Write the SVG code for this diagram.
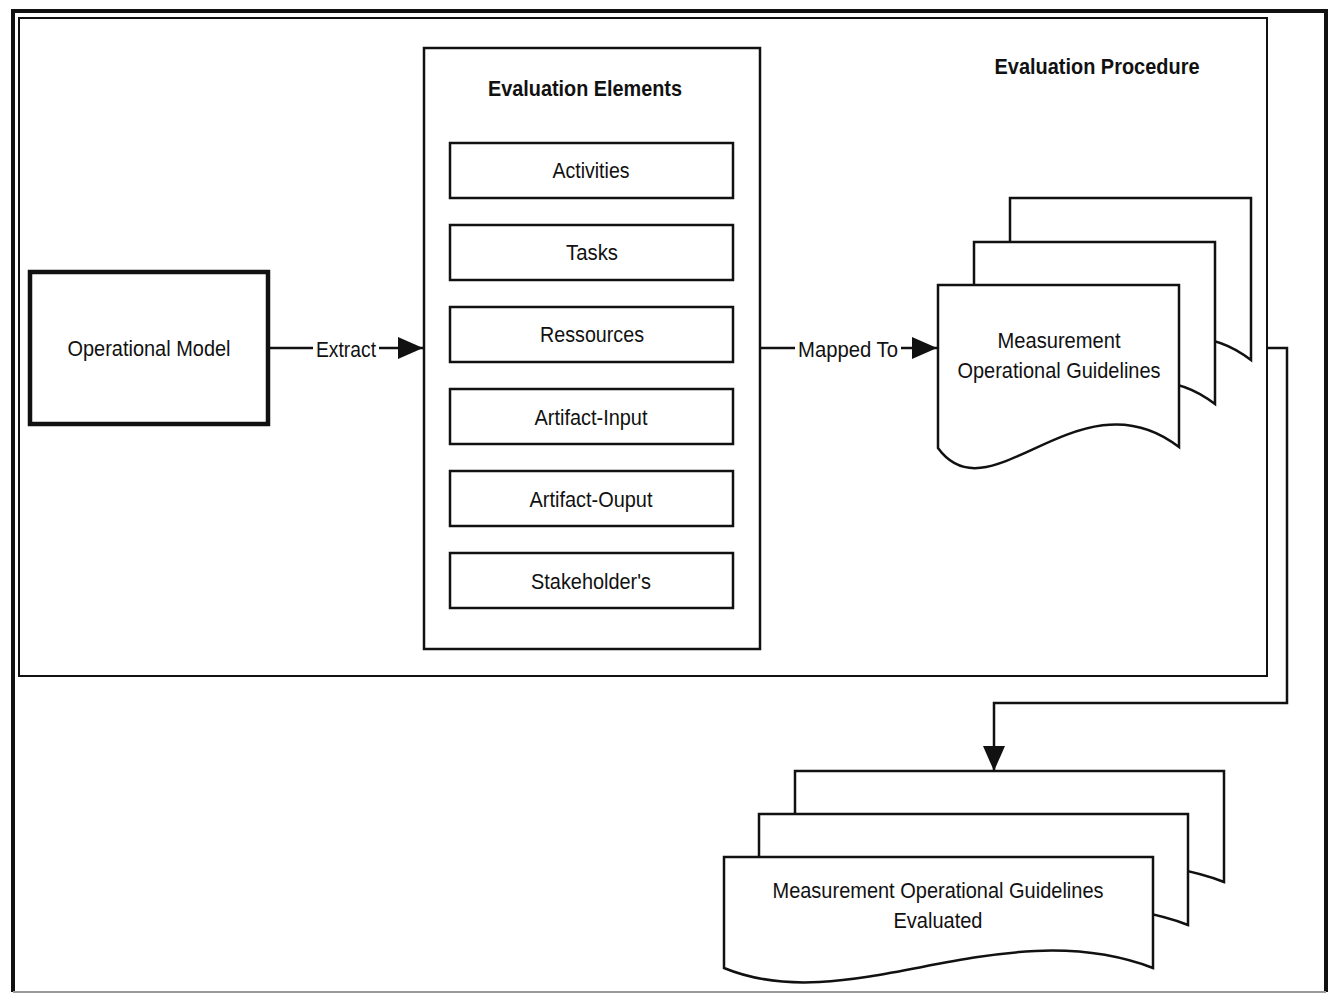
<svg xmlns="http://www.w3.org/2000/svg" width="1332" height="994" viewBox="0 0 1332 994">
  <style>
    .lbl { font-family: "Liberation Sans", Arial, sans-serif; font-size: 22.5px; fill: #111; text-anchor: middle; }
    .ttl { font-family: "Liberation Sans", Arial, sans-serif; font-size: 22.5px; font-weight: bold; fill: #111; text-anchor: middle; }
    .box { fill: #fff; stroke: #111; stroke-width: 2.5; }
    .doc { fill: #fff; stroke: #111; stroke-width: 2.5; stroke-linejoin: miter; }
    .wire { fill: none; stroke: #111; stroke-width: 2.5; }
  </style>
  <defs>
    <marker id="arrow" markerUnits="userSpaceOnUse" markerWidth="26" markerHeight="22" refX="25" refY="11" orient="auto">
      <path d="M0,0 L25,11 L0,22 Z" fill="#111"/>
    </marker>
    <!-- document sheet used by the guideline stack -->
    <path id="sheetA" d="M938,285 H1179 V447 C1080,370 990,520 938,448 Z"/>
    <!-- wide document sheet used by the evaluated stack -->
    <path id="sheetB" d="M724,857 H1153 V968 C1000,910 850,1020 724,968 Z"/>
  </defs>

  <rect width="1332" height="994" fill="#fff"/>

  <!-- page frame -->
  <g id="frame">
    <path d="M13,992 V11 H1326 V992" fill="none" stroke="#111" stroke-width="4"/>
    <line x1="13" y1="992" x2="1326" y2="992" stroke="#9a9a9a" stroke-width="2"/>
  </g>

  <!-- evaluation procedure region -->
  <g id="evaluation-procedure">
    <rect x="19" y="18" width="1248" height="658" fill="none" stroke="#111" stroke-width="2"/>
    <text class="ttl" x="1097" y="74" textLength="205" lengthAdjust="spacingAndGlyphs">Evaluation Procedure</text>
  </g>

  <!-- connectors -->
  <g id="connectors">
    <line class="wire" x1="268" y1="348" x2="423" y2="348" marker-end="url(#arrow)"/>
    <rect x="313" y="334" width="66" height="28" fill="#fff"/>
    <text class="lbl" x="346" y="357" textLength="60" lengthAdjust="spacingAndGlyphs">Extract</text>

    <line class="wire" x1="760" y1="348" x2="937" y2="348" marker-end="url(#arrow)"/>
    <rect x="795" y="334" width="106" height="28" fill="#fff"/>
    <text class="lbl" x="848" y="357" textLength="100" lengthAdjust="spacingAndGlyphs">Mapped To</text>

    <path class="wire" d="M1267,348 H1287 V703 H994 V771" marker-end="url(#arrow)"/>
  </g>

  <!-- operational model -->
  <g id="operational-model">
    <rect x="30" y="272" width="238" height="152" fill="#fff" stroke="#111" stroke-width="4.5"/>
    <text class="lbl" x="149" y="356" textLength="163" lengthAdjust="spacingAndGlyphs">Operational Model</text>
  </g>

  <!-- evaluation elements -->
  <g id="evaluation-elements">
    <rect class="box" x="424" y="48" width="336" height="601"/>
    <text class="ttl" x="585" y="96" textLength="194" lengthAdjust="spacingAndGlyphs">Evaluation Elements</text>
  </g>
  <g id="activities">
    <rect class="box" x="450" y="143" width="283" height="55"/>
    <text class="lbl" x="591" y="178" textLength="77" lengthAdjust="spacingAndGlyphs">Activities</text>
  </g>
  <g id="tasks">
    <rect class="box" x="450" y="225" width="283" height="55"/>
    <text class="lbl" x="592" y="260" textLength="52" lengthAdjust="spacingAndGlyphs">Tasks</text>
  </g>
  <g id="ressources">
    <rect class="box" x="450" y="307" width="283" height="55"/>
    <text class="lbl" x="592" y="342" textLength="104" lengthAdjust="spacingAndGlyphs">Ressources</text>
  </g>
  <g id="artifact-input">
    <rect class="box" x="450" y="389" width="283" height="55"/>
    <text class="lbl" x="591" y="425" textLength="113" lengthAdjust="spacingAndGlyphs">Artifact-Input</text>
  </g>
  <g id="artifact-output">
    <rect class="box" x="450" y="471" width="283" height="55"/>
    <text class="lbl" x="591" y="507" textLength="123" lengthAdjust="spacingAndGlyphs">Artifact-Ouput</text>
  </g>
  <g id="stakeholders">
    <rect class="box" x="450" y="553" width="283" height="55"/>
    <text class="lbl" x="591" y="589" textLength="120" lengthAdjust="spacingAndGlyphs">Stakeholder's</text>
  </g>

  <!-- measurement operational guidelines (stacked documents) -->
  <g id="guidelines">
    <use href="#sheetA" class="doc" transform="translate(72,-87)"/>
    <use href="#sheetA" class="doc" transform="translate(36,-43)"/>
    <use href="#sheetA" class="doc"/>
    <text class="lbl" x="1059" y="348" textLength="123" lengthAdjust="spacingAndGlyphs">Measurement</text>
    <text class="lbl" x="1059" y="378" textLength="203" lengthAdjust="spacingAndGlyphs">Operational Guidelines</text>
  </g>

  <!-- evaluated guidelines (stacked documents) -->
  <g id="guidelines-evaluated">
    <use href="#sheetB" class="doc" stroke-width="3" transform="translate(71,-86)"/>
    <use href="#sheetB" class="doc" stroke-width="3" transform="translate(35,-43)"/>
    <use href="#sheetB" class="doc" stroke-width="3"/>
    <text class="lbl" x="938" y="898" textLength="331" lengthAdjust="spacingAndGlyphs">Measurement Operational Guidelines</text>
    <text class="lbl" x="938" y="928" textLength="89" lengthAdjust="spacingAndGlyphs">Evaluated</text>
  </g>
</svg>
